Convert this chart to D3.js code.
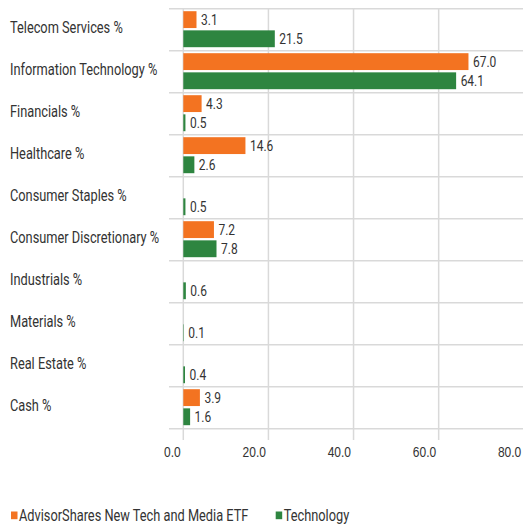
<!DOCTYPE html>
<html>
<head>
<meta charset="utf-8">
<script src="https://cdn.jsdelivr.net/npm/d3@7"></script>
<style>
  body { margin: 0; background: #fff; }
  svg { display: block; font-family: "Roboto", sans-serif; }
</style>
</head>
<body>
<svg id="chart" width="523" height="525"></svg>
<script>
/**
 * Data.
 */
const categories = [
    'Telecom Services %',
    'Information Technology %',
    'Financials %',
    'Healthcare %',
    'Consumer Staples %',
    'Consumer Discretionary %',
    'Industrials %',
    'Materials %',
    'Real Estate %',
    'Cash %'
];
const seriesNames = ['AdvisorShares New Tech and Media ETF', 'Technology'];
const etfValues = [3.1, 67.0, 4.3, 14.6, null, 7.2, null, null, null, 3.9];
const techValues = [21.5, 64.1, 0.5, 2.6, 0.5, 7.8, 0.6, 0.1, 0.4, 1.6];
const xTicks = [0, 20, 40, 60, 80];

/**
 * Visual configs.
 */
const colors = ['#f37321', '#2e8540'];
const gridColor = '#d9d9d9', textColor = '#333';
const plot = { left: 183.3, right: 523.8, top: 8.7, bottom: 428.7, gridLeft: 169 };
const squeeze = 'scale(0.8,1)'; // condensed look of the original font

const svg = d3.select('#chart');

const xScale = d3.scaleLinear().domain([0, 80]).range([plot.left, plot.right]);
const yScale = d3.scaleBand().domain(categories).range([plot.top, plot.bottom]);
const inner = d3.scaleBand().domain([0, 1]).range([2.5, 38.5]).paddingInner(0.12);

/**
 * Grid.
 */
const grid = svg.append('g').attr('class', 'grid');
grid.selectAll('line.h')
    .data(categories.map(c => yScale(c)).concat([plot.bottom]))
    .join('line')
        .attr('class', 'h')
        .attr('x1', plot.gridLeft).attr('x2', 523)
        .attr('y1', d => d).attr('y2', d => d)
        .attr('stroke', gridColor).attr('stroke-width', 1.5);
grid.selectAll('line.v')
    .data(xTicks)
    .join('line')
        .attr('class', 'v')
        .attr('x1', d => xScale(d)).attr('x2', d => xScale(d))
        .attr('y1', plot.top).attr('y2', 440)
        .attr('stroke', gridColor).attr('stroke-width', 1.5);

/**
 * X axis: labels sit just left of their grid line.
 */
const xAxis = d3.axisBottom(xScale).tickValues(xTicks).tickFormat(d3.format('.1f')).tickSize(0).tickPadding(0);
const xAxisG = svg.append('g')
    .attr('transform', 'translate(0,451.5)')
    .call(xAxis);
xAxisG.select('.domain').remove();
xAxisG.selectAll('text')
    .attr('fill', textColor)
    .attr('font-size', 15)
    .attr('y', null)
    .attr('dy', '0.35em')
    .attr('text-anchor', 'end')
    .attr('transform', 'translate(-3,0) ' + squeeze);

/**
 * Category labels.
 */
svg.append('g').selectAll('text')
    .data(categories)
    .join('text')
        .attr('transform', d => `translate(10,${yScale(d) + yScale.bandwidth() / 2 - 2}) ${squeeze}`)
        .attr('dy', '0.35em')
        .attr('fill', textColor)
        .attr('font-size', 16)
        .text(d => d);

/**
 * Bars.
 */
const seriesData = [etfValues, techValues].map((vals, si) => vals.map((v, i) => ({ s: si, cat: categories[i], value: v })));
const barGroups = svg.append('g').selectAll('g')
    .data(seriesData)
    .join('g')
        .attr('fill', (d, i) => colors[i]);

barGroups.selectAll('rect')
    .data(d => d.filter(p => p.value != null))
    .join('rect')
        .attr('x', xScale(0))
        .attr('y', d => yScale(d.cat) + inner(d.s))
        .attr('width', d => xScale(d.value) - xScale(0))
        .attr('height', inner.bandwidth());

barGroups.selectAll('text')
    .data(d => d.filter(p => p.value != null))
    .join('text')
        .attr('transform', d => `translate(${xScale(d.value) + 4.5},${yScale(d.cat) + inner(d.s) + inner.bandwidth() / 2}) ${squeeze}`)
        .attr('dy', '0.35em')
        .attr('fill', textColor)
        .attr('font-size', 15)
        .text(d => d3.format('.1f')(d.value));

/**
 * Legend.
 */
const legend = svg.append('g').attr('transform', 'translate(0,515.5)');
const legendX = [11, 275.7];
const items = legend.selectAll('g')
    .data(seriesNames)
    .join('g')
        .attr('transform', (d, i) => `translate(${legendX[i]},0)`);
items.append('rect')
    .attr('x', 0).attr('y', -4).attr('width', 6.5).attr('height', 7.7)
    .attr('fill', (d, i) => colors[i]);
items.append('text')
    .attr('transform', 'translate(8,0) ' + squeeze)
    .attr('dy', '0.35em')
    .attr('fill', textColor)
    .attr('font-size', 16)
    .text(d => d);
</script>
</body>
</html>
